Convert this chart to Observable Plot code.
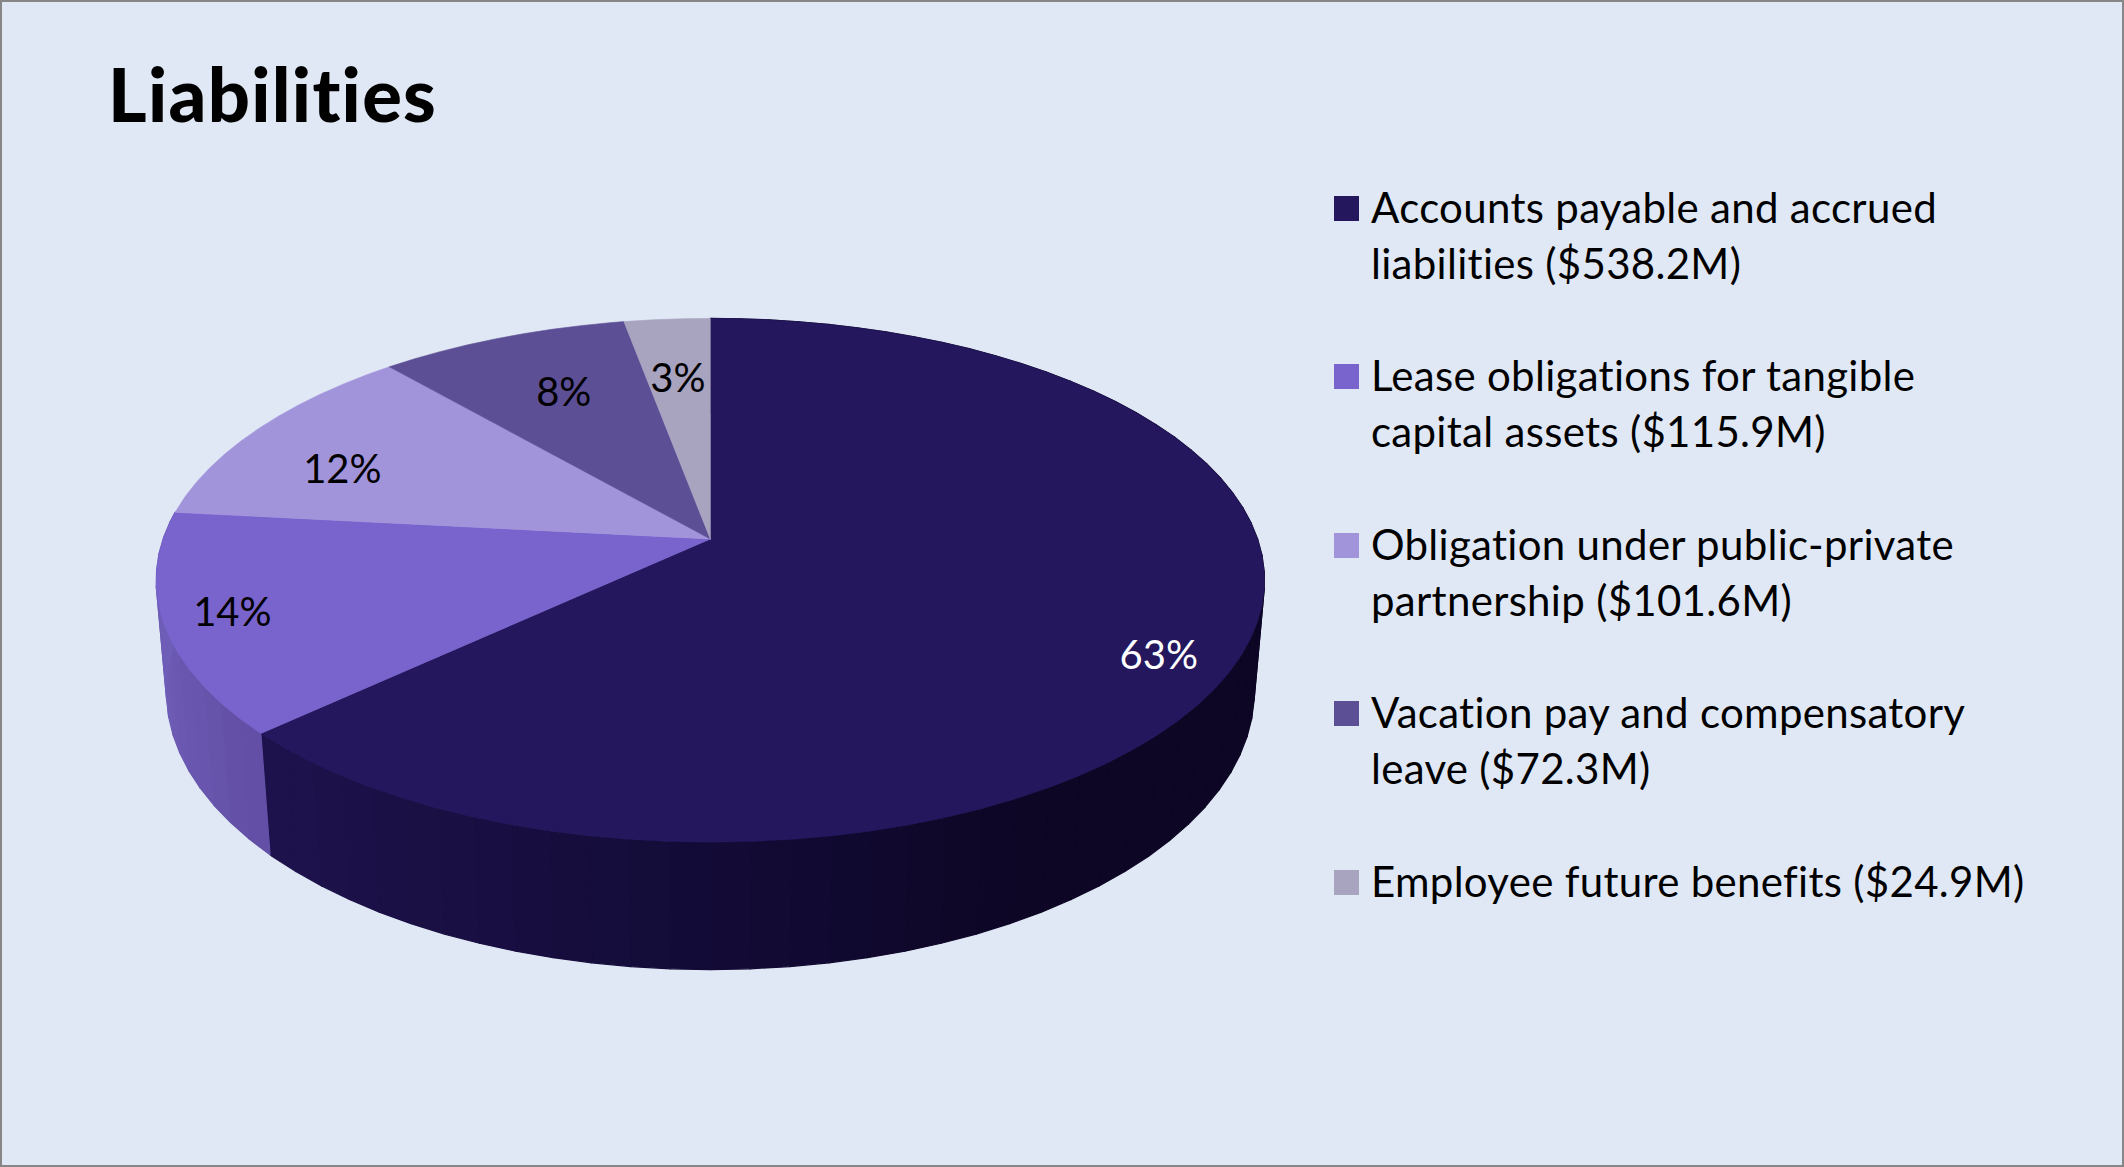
<!DOCTYPE html>
<html>
<head>
<meta charset="utf-8">
<script src="https://cdn.jsdelivr.net/npm/d3@7"></script>
<script src="https://cdn.jsdelivr.net/npm/@observablehq/plot@0.6"></script>
<style>
  html, body { margin: 0; padding: 0; background: #E0E8F5; }
  #page { position: relative; width: 2124px; height: 1167px; box-sizing: border-box; border: 2px solid #868686; overflow: hidden; font-family: Lato, sans-serif; color: #000; font-variant-ligatures: none; }
  #chart { position: absolute; left: -2px; top: -2px; }
  #chart text { font-variant-ligatures: none; }
  #title { position: absolute; left: 106px; top: 48px; font-size: 74px; font-weight: 900; line-height: 88px; letter-spacing: 1.3px; }
  #legend { position: absolute; left: 1332px; top: 177px; font-size: 42px; letter-spacing: 0.3px; line-height: 56px; display: flex; flex-direction: column; gap: 56.4px; }
  .item { display: flex; align-items: flex-start; }
  .swatch { flex: none; width: 25px; height: 25px; margin-top: 17px; margin-right: 12px; }
  .label { white-space: pre-line; }
</style>
</head>
<body>
<div id="page">
  <div id="chart"></div>
  <div id="title"></div>
  <div id="legend"></div>
</div>
<script>
// --- data ---
const chartTitle = "Liabilities";
const categories = [
  "Accounts payable and accrued\nliabilities",
  "Lease obligations for tangible\ncapital assets",
  "Obligation under public-private\npartnership",
  "Vacation pay and compensatory\nleave",
  "Employee future benefits"
];
const values = [538.2, 115.9, 101.6, 72.3, 24.9];
const colors = ["#24175E", "#7963CD", "#A294DB", "#5C4F95", "#A8A3BF"];

// --- layout ---
const W = 2124, H = 1167;
const center = [710.5, 539], radiusX = 547.8, flatten = 255.6 / 547.8;
const tilt = 0.1576;                       // perspective of the top face
const base = {x: 538 / 547.8, k: 0.154, p: 109.8 / 547.8, q: 254.8 / 547.8}; // lower rim
const labelColors = ["#fff", "#000", "#000", "#000", "#000"];
const labelSpots = [[0.85, -2, 25], [0.82, -34, 5], [0.72, -36, 12], [0.62, -11, -15], [0.72, 0, 5]]; // radius, dx, dy
const sideShades = [
  {slice: 0, domain: [-0.8, 0, 0.5], range: ["#1f134f", "#130b36", "#0d0625"]},
  {slice: 1, domain: [-1, -0.78], range: ["#6f5eb8", "#6350a6"]}
];

// --- geometry from the values ---
const arcs = d3.pie().sort(null).value(d => d)(values);
const total = d3.sum(values);
const top3 = (a, r = 1) => {
  const X = r * Math.sin(a), Y = -r * Math.cos(a), d = 1 - tilt * Y;
  return [X / d, flatten * Y / d];
};
const low3 = (a) => {
  const X = Math.sin(a), Y = -Math.cos(a), d = 1 - base.k * Y;
  return [base.x * X / d, (base.p + base.q * Y) / d];
};
const step = 3.6 * Math.PI / 180;
const angles = (a0, a1) => d3.range(a0, a1, step).concat([a1]);

const topRows = arcs.map((arc, i) => {
  const pts = [[0, 0], ...angles(arc.startAngle, arc.endAngle).map(a => top3(a)), [0, 0]];
  return pts.map(([x, y]) => ({x, y, slice: i}));
});
const sideRows = sideShades.flatMap(({slice, domain, range}) => {
  const shade = d3.scaleLinear().domain(domain).range(range).clamp(true).interpolate(d3.interpolateRgb);
  const arc = arcs[slice];
  const as = angles(arc.startAngle, arc.endAngle);
  return as.slice(0, -1).map((a, j) => {
    const b = as[j + 1];
    const poly = [top3(a), top3(b), low3(b), low3(a), top3(a)];
    return {color: shade(Math.sin((a + b) / 2)), poly};
  });
});
const labelRows = arcs.map((arc, i) => {
  const [r, dx, dy] = labelSpots[i];
  const [x, y] = top3((arc.startAngle + arc.endAngle) / 2, r);
  return {x, y, dx, dy, text: d3.format(".0%")(values[i] / total), fill: labelColors[i]};
});

// --- chart ---
const xr = [center[0] - radiusX, center[0] + radiusX];
const yr = [center[1] - radiusX, center[1] + radiusX];
const plot = Plot.plot({
  width: W, height: H, margin: 0,
  style: {background: "transparent"},
  x: {domain: [-1, 1], range: xr, axis: null},
  y: {domain: [-1, 1], range: yr, axis: null},
  marks: [
    ...sideRows.map(s => Plot.line(s.poly, {x: d => d[0], y: d => d[1], fill: s.color, stroke: s.color, strokeWidth: 1.2, curve: "linear"})),
    ...topRows.map((rows, i) => Plot.line(rows, {x: "x", y: "y", fill: colors[i], stroke: colors[i], strokeWidth: 0.6, curve: "linear"})),
    ...labelRows.map(l => Plot.text([l], {x: "x", y: "y", text: "text", fill: l.fill, dx: l.dx, dy: l.dy, fontSize: 40, fontFamily: "Lato, sans-serif", textAnchor: "middle"}))
  ]
});
document.getElementById("chart").append(plot);
document.getElementById("title").textContent = chartTitle;
const legend = document.getElementById("legend");
categories.forEach((c, i) => {
  const item = document.createElement("div"); item.className = "item";
  const sw = document.createElement("div"); sw.className = "swatch"; sw.style.background = colors[i];
  const lab = document.createElement("div"); lab.className = "label";
  lab.textContent = `${c} ($${values[i].toFixed(1)}M)`;
  item.append(sw, lab); legend.append(item);
});
</script>
</body>
</html>
